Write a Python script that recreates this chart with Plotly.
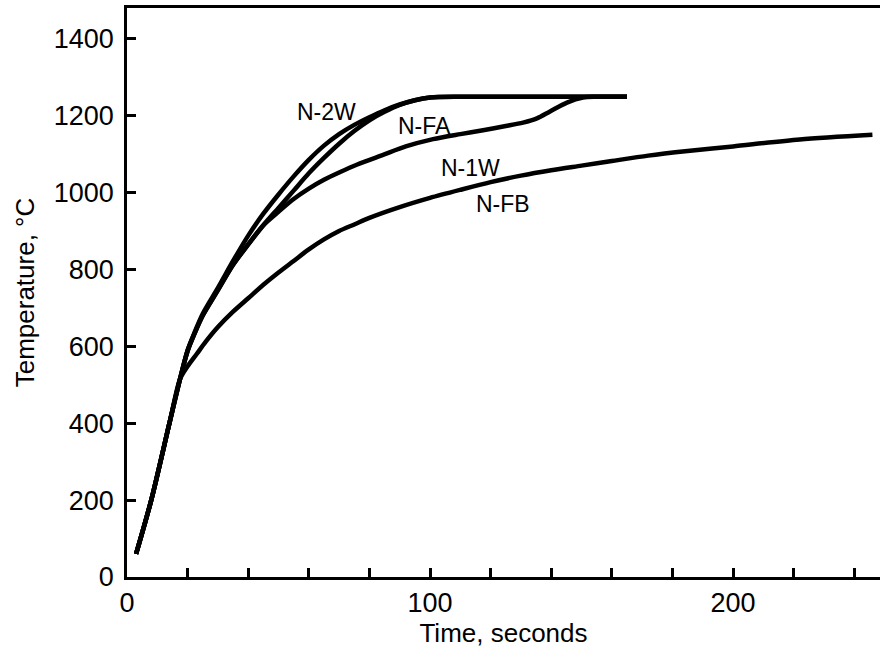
import plotly.graph_objects as go

# ---- data (time in seconds, temperature in °C) ----
t_n2w = [3, 8, 14, 17.5, 20, 22.5, 25, 30, 35, 40, 45, 50, 55, 60, 65, 70, 75, 80, 85, 90, 95, 100, 110, 130, 150, 165]
v_n2w = [60, 200, 400, 515, 590, 640, 685, 752, 822, 888, 945, 995, 1042, 1085, 1122, 1152, 1176, 1196, 1214, 1229, 1240, 1247, 1249, 1249, 1249, 1249]

t_nfa = [3, 8, 14, 17.5, 20, 22.5, 25, 30, 35, 40, 45, 50, 55, 60, 65, 70, 75, 80, 85, 90, 95, 100, 110, 130, 150, 165]
v_nfa = [60, 200, 400, 515, 588, 637, 680, 746, 812, 865, 915, 960, 1005, 1050, 1090, 1127, 1160, 1188, 1210, 1228, 1240, 1247, 1249, 1249, 1249, 1249]

t_n1w = [3, 8, 14, 17.5, 20, 22.5, 25, 30, 35, 40, 45, 50, 55, 60, 65, 70, 76, 84.5, 92, 101, 110, 117.5, 125, 130.7, 135.3, 139.6, 145.2, 150.5, 155, 165]
v_n1w = [60, 200, 400, 515, 588, 637, 680, 746, 812, 865, 915, 950, 983, 1010, 1033, 1052, 1073, 1098, 1120, 1139, 1152, 1162, 1173, 1182, 1193, 1211, 1234, 1247, 1249, 1249]

t_nfb = [3, 8, 14, 17.5, 20, 23, 26, 30, 35, 40, 45, 50, 55, 60, 65, 70, 75, 80, 90, 100, 110, 120, 130, 140, 150, 160, 172, 185, 200, 222, 246]
v_nfb = [60, 200, 400, 515, 548, 580, 612, 650, 690, 725, 760, 792, 822, 852, 878, 900, 917, 934, 962, 986, 1007, 1027, 1044, 1058, 1070, 1082, 1096, 1108, 1120, 1138, 1150]

series_names = ["N-2W", "N-FA", "N-1W", "N-FB"]
label_t = [66, 98.3, 113.5, 124]
label_v = [1209, 1172, 1065, 969]

x_ticks = [0, 100, 200]
y_ticks = [0, 200, 400, 600, 800, 1000, 1200, 1400]

FONT = "Liberation Sans"

fig = go.Figure()
for name, t, v in zip(series_names,
                      [t_n2w, t_nfa, t_n1w, t_nfb],
                      [v_n2w, v_nfa, v_n1w, v_nfb]):
    fig.add_trace(go.Scatter(x=t, y=v, mode="lines", name=name,
                             line=dict(color="black", width=4.5, shape="spline", smoothing=0.8)))

for name, t, v in zip(series_names, label_t, label_v):
    fig.add_annotation(x=t, y=v, text=name, showarrow=False,
                       font=dict(family=FONT, size=23, color="black"))

fig.update_layout(
    width=880, height=657,
    margin=dict(l=127, r=0, t=8, b=80),
    paper_bgcolor="white", plot_bgcolor="white",
    showlegend=False,
    font=dict(family=FONT, color="black"),
)
fig.update_xaxes(
    range=[0, 248.5], tickvals=x_ticks, ticks="inside", ticklen=9, tickwidth=2.5,
    tickcolor="black", showline=True, linecolor="black", linewidth=2.5, mirror=True,
    showgrid=False, zeroline=False, tickfont=dict(family=FONT, size=27),
    minor=dict(dtick=20, tick0=0, ticks="inside", ticklen=9, tickwidth=2.5, tickcolor="black", showgrid=False),
    title=dict(text="Time, seconds", font=dict(family=FONT, size=26), standoff=6),
)
fig.update_yaxes(
    range=[0, 1480], tickvals=y_ticks, ticks="inside", ticklen=9, tickwidth=2.5,
    tickcolor="black", showline=True, linecolor="black", linewidth=2.5, mirror=False,
    showgrid=False, zeroline=False, tickfont=dict(family=FONT, size=27),
    ticklabelstandoff=5,
    title=dict(text="Temperature, °C", font=dict(family=FONT, size=26), standoff=12),
)

fig.write_html("out.html")
